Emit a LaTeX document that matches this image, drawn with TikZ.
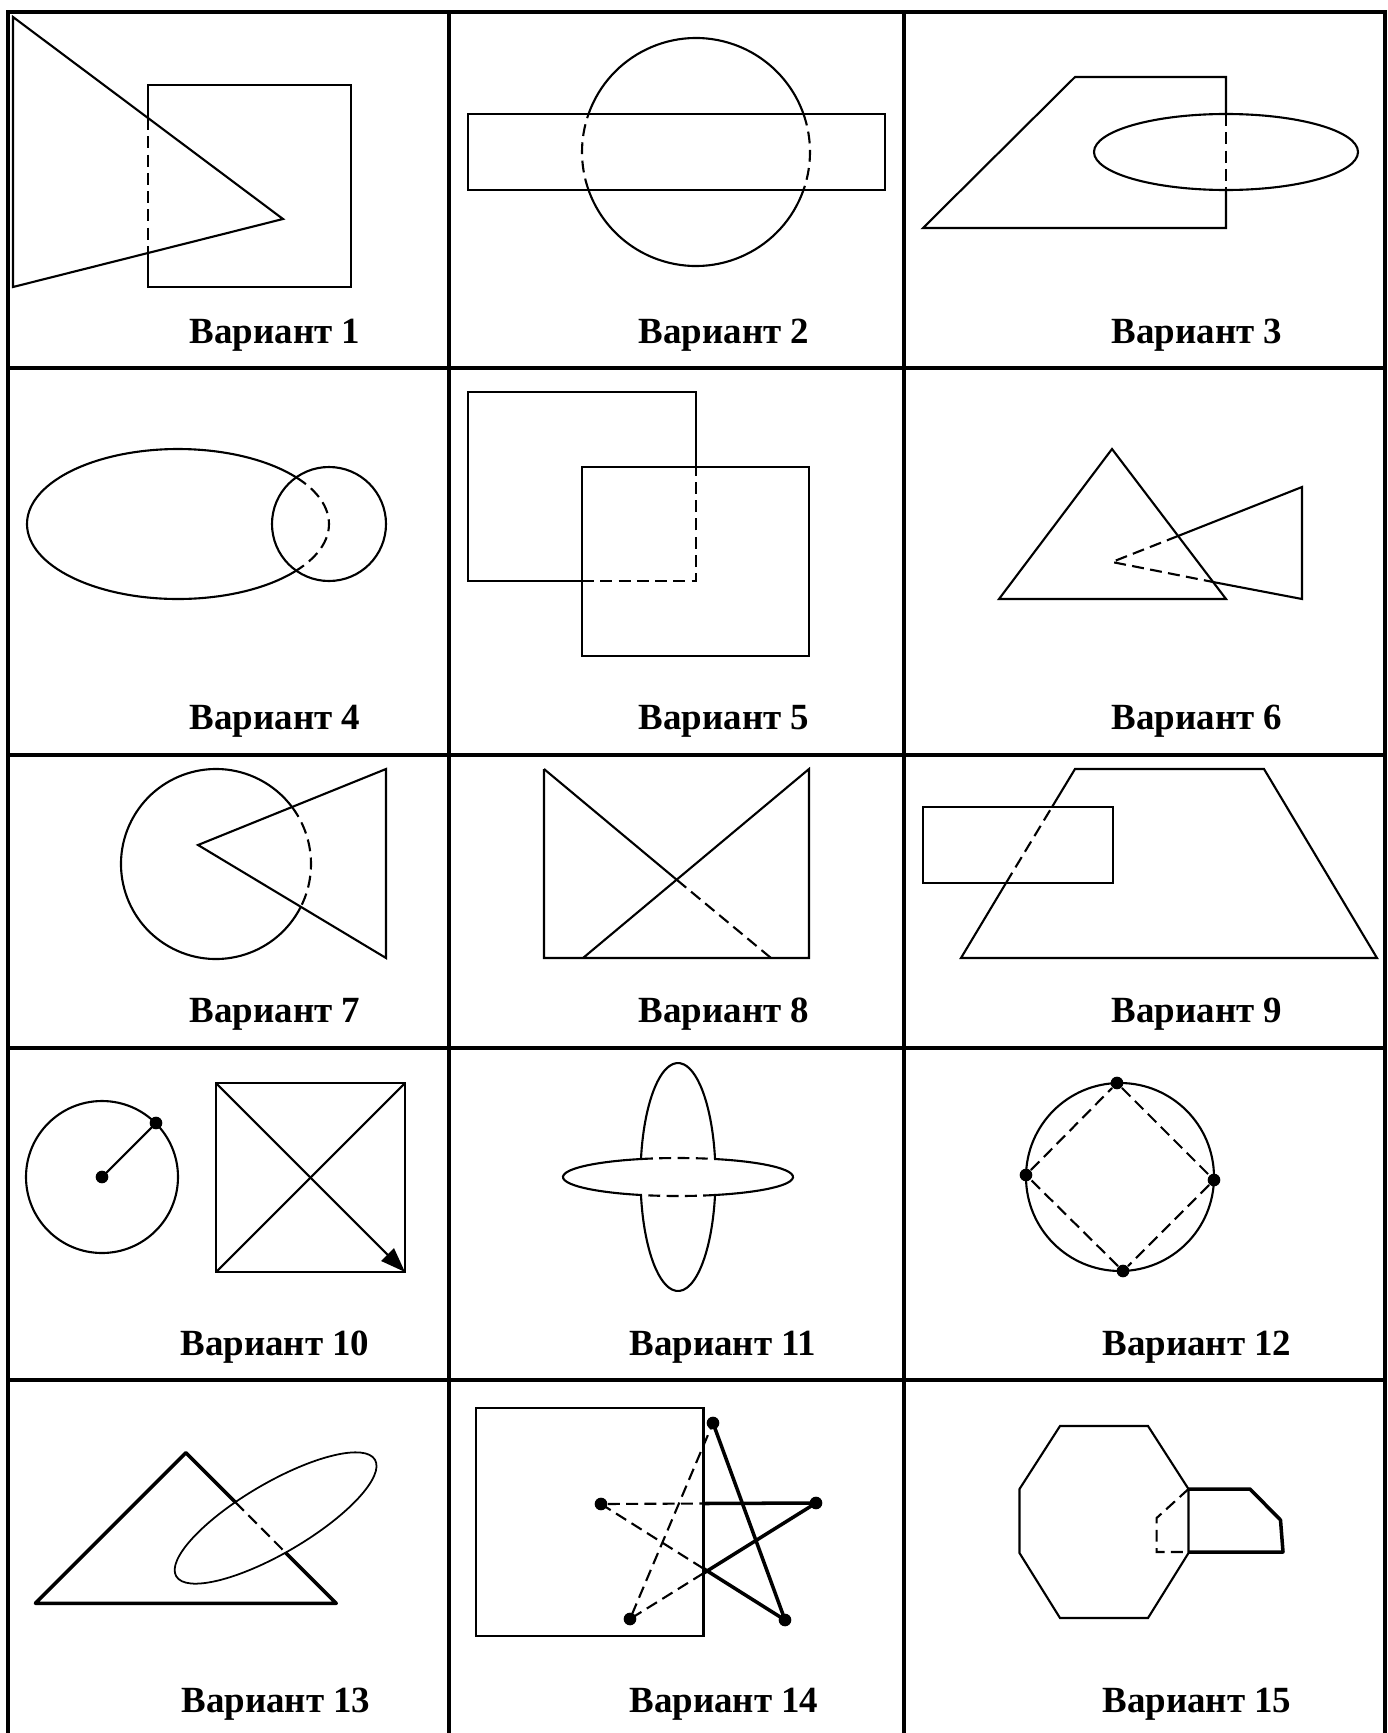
\documentclass[tikz,border=0pt]{standalone}
\usepackage{fontspec}
\setmainfont{Liberation Serif}
\usetikzlibrary{arrows.meta}
\tikzstyle{gridline}   = [line width=1.4pt, line cap=rect]
\tikzstyle{contour}    = [line width=0.6pt]
\tikzstyle{hiddenline} = [contour, dash pattern=on 3.4pt off 1.8pt]
\tikzstyle{boldline}   = [line width=1pt, line join=round]
\tikzstyle{pointdot}   = [circle, fill, inner sep=0pt, minimum size=3.6pt]
\tikzstyle{vartext}    = [anchor=base, font=\bfseries\fontsize{10.5}{12}\selectfont]

\begin{document}
\begin{tikzpicture}[x=0.01cm, y=-0.01cm]
        \useasboundingbox (0,0) rectangle (1387,1733);
        % table
        \foreach \y in {12,368,755,1048,1380}
            \draw [gridline] (8,\y) -- (1385,\y);
        \foreach \x in {8,449,904,1385}
            \draw [gridline] (\x,12) -- (\x,1733);

        % captions
        \node [vartext] (var1) at (275,343) {Вариант 1};
        \node [vartext] (var2) at (724,343) {Вариант 2};
        \node [vartext] (var3) at (1197,343) {Вариант 3};
        \node [vartext] (var4) at (275,729) {Вариант 4};
        \node [vartext] (var5) at (724,729) {Вариант 5};
        \node [vartext] (var6) at (1197,729) {Вариант 6};
        \node [vartext] (var7) at (275,1022) {Вариант 7};
        \node [vartext] (var8) at (724,1022) {Вариант 8};
        \node [vartext] (var9) at (1197,1022) {Вариант 9};
        \node [vartext] (var10) at (275,1355) {Вариант 10};
        \node [vartext] (var11) at (723,1355) {Вариант 11};
        \node [vartext] (var12) at (1197,1355) {Вариант 12};
        \node [vartext] (var13) at (276,1712) {Вариант 13};
        \node [vartext] (var14) at (724,1712) {Вариант 14};
        \node [vartext] (var15) at (1197,1712) {Вариант 15};

        % variant 1
        \draw [contour] (13,17) -- (283,219) -- (13,287) -- cycle;
        \draw [contour] (148,118) -- (148,85) -- (351,85) -- (351,287) -- (148,287) -- (148,253);
        \draw [hiddenline] (148,118) -- (148,253);

        % variant 2
        \draw [contour] (468,114) rectangle (885,190);
        \draw [contour] (696,152) ++(19.5:114) arc [start angle=19.5, end angle=160.5, radius=114];
        \draw [contour] (696,152) ++(199.5:114) arc [start angle=199.5, end angle=340.5, radius=114];
        \draw [hiddenline] (696,152) ++(-19.5:114) arc [start angle=-19.5, end angle=19.5, radius=114];
        \draw [hiddenline] (696,152) ++(160.5:114) arc [start angle=160.5, end angle=199.5, radius=114];

        % variant 3
        \draw [contour] (1226,114) -- (1226,77) -- (1075,77) -- (923,228) -- (1226,228) -- (1226,190);
        \draw [hiddenline] (1226,114) -- (1226,190);
        \draw [contour] (1226,152) ellipse [x radius=132, y radius=38];

        % variant 4
        \draw [contour] (178,524) ++(38.5:151 and 75) arc [start angle=38.5, end angle=321.5, x radius=151, y radius=75];
        \draw [hiddenline] (178,524) ++(-38.5:151 and 75) arc [start angle=-38.5, end angle=38.5, x radius=151, y radius=75];
        \draw [contour] (329,524) circle [radius=57];

        % variant 5
        \draw [contour] (696,467) -- (696,392) -- (468,392) -- (468,581) -- (582,581);
        \draw [hiddenline] (582,581) -- (696,581) -- (696,467);
        \draw [contour] (582,467) rectangle (809,656);

        % variant 6
        \draw [contour] (1112,449) -- (1226,599) -- (999,599) -- cycle;
        \draw [contour] (1178,536) -- (1302,487) -- (1302,599) -- (1213,582);
        \draw [hiddenline] (1178,536) -- (1112,562) -- (1213,582);

        % variant 7
        \draw [contour] (216,864) ++(27:95) arc [start angle=27, end angle=323, radius=95];
        \draw [hiddenline] (216,864) ++(-37:95) arc [start angle=-37, end angle=27, radius=95];
        \draw [contour] (198,845) -- (386,769) -- (386,958) -- cycle;

        % variant 8
        \draw [contour] (544,769) -- (544,958) -- (809,958) -- (809,769) -- (583,958);
        \draw [contour] (544,769) -- (677,880);
        \draw [hiddenline] (677,880) -- (771,958);

        % variant 9
        \draw [contour] (1052,807) -- (1075,769) -- (1264,769) -- (1377,958) -- (961,958) -- (1006,883);
        \draw [hiddenline] (1006,883) -- (1052,807);
        \draw [contour] (923,807) rectangle (1113,883);

        % variant 10
        \draw [contour] (102,1177) circle [radius=76];
        \node [pointdot] (centre10) at (102,1177) {};
        \node [pointdot] (rim10) at (156,1123) {};
        \draw [contour] (centre10.center) -- (rim10.center);
        \draw [contour] (216,1083) rectangle (405,1272);
        \draw [contour] (405,1083) -- (216,1272);
        \draw [contour, -{Triangle[length=7pt, width=5pt]}] (216,1083) -- (405,1272);

        % variant 11
        \draw [contour] (678,1177) ++(-71.2:115 and 19) arc [start angle=-71.2, end angle=71.2, x radius=115, y radius=19];
        \draw [contour] (678,1177) ++(108.8:115 and 19) arc [start angle=108.8, end angle=251.2, x radius=115, y radius=19];
        \draw [hiddenline] (678,1177) ++(71.2:115 and 19) arc [start angle=71.2, end angle=108.8, x radius=115, y radius=19];
        \draw [hiddenline] (678,1177) ++(251.2:115 and 19) arc [start angle=251.2, end angle=288.8, x radius=115, y radius=19];
        \draw [contour] (678,1177) ++(9.1:37.5 and 114) arc [start angle=9.1, end angle=170.9, x radius=37.5, y radius=114];
        \draw [contour] (678,1177) ++(189.1:37.5 and 114) arc [start angle=189.1, end angle=350.9, x radius=37.5, y radius=114];

        % variant 12
        \draw [contour] (1120,1177) circle [radius=94];
        \node [pointdot] (top12) at (1117,1083) {};
        \node [pointdot] (right12) at (1214,1180) {};
        \node [pointdot] (bottom12) at (1123,1271) {};
        \node [pointdot] (left12) at (1026,1175) {};
        \draw [hiddenline] (top12) -- (right12) -- (bottom12) -- (left12) -- (top12);

        % variant 13
        \draw [contour, line width=0.5pt, rotate around={30.4:(275.6,1518)}] (275.6,1518) ellipse [x radius=115.2, y radius=35];
        \draw [boldline] (235.4,1502.3) -- (185.8,1452.7) -- (35.4,1603.3) -- (336.3,1603.3) -- (285.6,1552.6);
        \draw [hiddenline] (235.4,1502.3) -- (285.6,1552.6);

        % variant 14
        \draw [contour] (476,1408) rectangle (703.5,1636);
        \node [pointdot] (top14) at (713,1423) {};
        \node [pointdot] (right14) at (816,1503) {};
        \node [pointdot] (lowright14) at (785,1620) {};
        \node [pointdot] (lowleft14) at (630,1619) {};
        \node [pointdot] (left14) at (601,1504) {};
        \draw [boldline] (top14.center) -- (lowright14.center) -- (703.5,1568.6);
        \draw [hiddenline] (703.5,1568.6) -- (left14.center) -- (703.5,1503.5);
        \draw [boldline] (703.5,1503.5) -- (right14.center) -- (703.5,1573.2);
        \draw [hiddenline] (703.5,1573.2) -- (lowleft14.center) -- (top14.center);

        % variant 15
        \draw [contour] (1060,1426) -- (1148,1426) -- (1188.5,1489) -- (1188.5,1553) -- (1148,1618) -- (1060,1618) -- (1019.5,1553) -- (1019.5,1489) -- cycle;
        \draw [boldline] (1188.5,1489) -- (1250,1489) -- (1280.5,1520) -- (1283,1552) -- (1188.5,1552);
        \draw [hiddenline] (1188.5,1489) -- (1156.6,1518) -- (1156.6,1552) -- (1188.5,1552);
\end{tikzpicture}
\end{document}
